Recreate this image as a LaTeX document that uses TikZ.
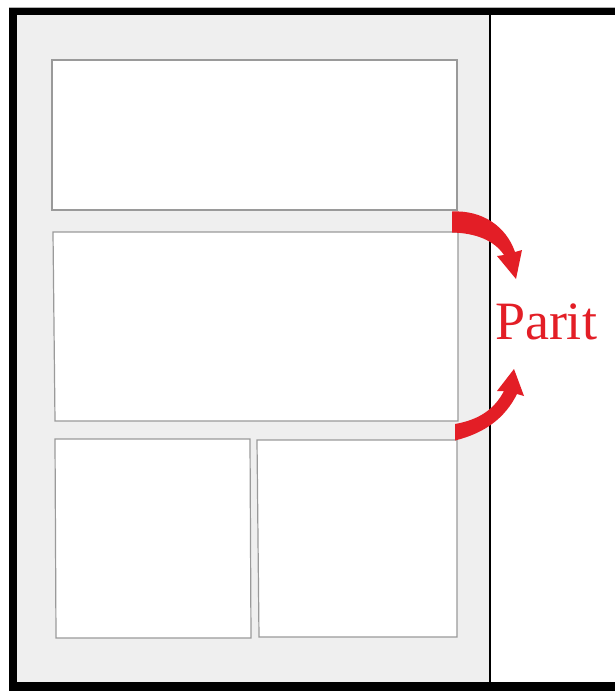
\documentclass[tikz,border=0pt]{standalone}
\usepackage{fontspec}
\setmainfont{Liberation Serif}
\definecolor{pagegray}{HTML}{EFEFEF}
\definecolor{paritred}{HTML}{E31E26}
\definecolor{panelline}{HTML}{9A9A9A}
\begin{document}
\begin{tikzpicture}[x=1pt,y=-1pt,
  panel/.style={fill=white,draw=panelline,line width=1.2pt},
  redarrow/.style={fill=paritred,draw=none}]
\useasboundingbox (0,0) rectangle (615,691);
\fill[white] (0,0) rectangle (615,691);
% outer black frame (top, left, bottom)
\fill[black] (9,7) rectangle (615,691);
\fill[white] (17,15) rectangle (615,682);
\draw[gray!60,line width=0.6pt] (9,7.3) -- (615,7.3);
% page
\fill[pagegray] (17,15) rectangle (490,682);
\draw[black,line width=1.8pt] (490,15) -- (490,682);
% panels
\draw[panel] (52,60) -- (457,60) -- (457,210) -- (52,210) -- cycle;
\draw[panel] (53,232) -- (458,232) -- (458,421) -- (55,421) -- cycle;
\draw[panel] (55,439) -- (250,439) -- (251,638) -- (56,638) -- cycle;
\draw[panel] (257,440) -- (457,440) -- (457,637) -- (259,637) -- cycle;
% top arrow
\fill[redarrow] (452,211.5) .. controls (482,210) and (506,226) .. (515,252)
  -- (522,250) -- (516,279) -- (497,256) -- (504,255)
  .. controls (494,240) and (475,233) .. (452,232.5) -- cycle;
% bottom arrow
\fill[redarrow] (455,440.5) .. controls (485,433) and (505,418) .. (517,394)
  -- (524,396) -- (514,369) -- (497,391) -- (504,391)
  .. controls (494,410) and (478,420) .. (455,424) -- cycle;
% label
\node[text=paritred,font=\fontsize{54}{60}\selectfont,inner sep=0pt,anchor=base] (parit) at (546,339) {Parit};
\end{tikzpicture}
\end{document}
